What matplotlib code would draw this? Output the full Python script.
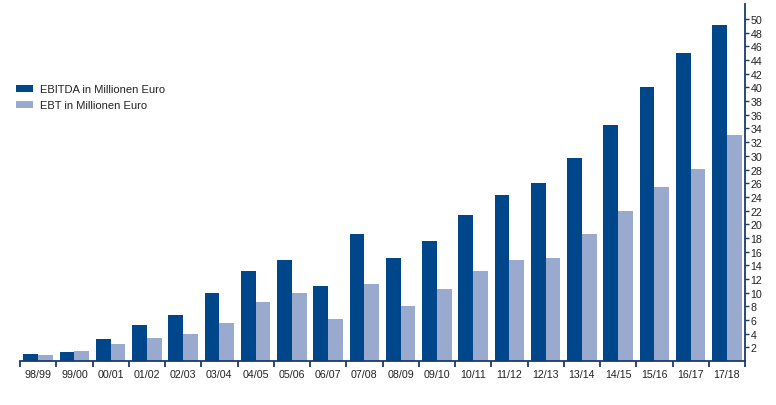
import numpy as np
import matplotlib
matplotlib.use("Agg")
import matplotlib.pyplot as plt

# Data (Mio. EUR)
years = ["98/99", "99/00", "00/01", "01/02", "02/03", "03/04", "04/05", "05/06", "06/07", "07/08",
         "08/09", "09/10", "10/11", "11/12", "12/13", "13/14", "14/15", "15/16", "16/17", "17/18"]
ebitda = [1.0, 1.3, 3.2, 5.2, 6.7, 10.0, 13.2, 14.7, 10.9, 18.6,
          15.0, 17.6, 21.4, 24.3, 26.1, 29.7, 34.5, 40.0, 45.0, 49.1]
ebt = [0.9, 1.5, 2.5, 3.4, 3.9, 5.5, 8.6, 9.9, 6.1, 11.2,
       8.0, 10.6, 13.1, 14.8, 15.0, 18.5, 22.0, 25.5, 28.1, 33.0]
yticks = list(range(2, 51, 2))

dark = "#00468b"
light = "#9aaacf"
axis_col = "#1a3a6e"
text_col = "#222222"

plt.rcParams["font.family"] = ["Liberation Sans", "DejaVu Sans"]

fig = plt.figure(figsize=(7.76, 4.06), dpi=100)
ax = fig.add_axes([20 / 776, 44 / 406, 725 / 776, 357 / 406])

x = np.arange(len(years))
w = 0.41
ax.bar(x - w / 2, ebitda, width=w, color=dark, label="EBITDA in Millionen Euro")
ax.bar(x + w / 2, ebt, width=w, color=light, label="EBT in Millionen Euro")

ax.set_xlim(-0.5, len(years) - 0.5)
ax.set_ylim(0, 52.2)

# spines
for s in ["top", "left"]:
    ax.spines[s].set_visible(False)
for s in ["bottom", "right"]:
    ax.spines[s].set_color(axis_col)
    ax.spines[s].set_linewidth(1.3)

# y axis on the right
ax.yaxis.tick_right()
ax.set_yticks(yticks)
ax.set_yticklabels([str(v) for v in yticks])
ax.tick_params(axis="y", direction="out", length=3, width=1, color=axis_col,
               labelsize=7.7, labelcolor=text_col, pad=1)

# x axis: ticks at category boundaries, labels centred
ax.set_xticks(np.arange(-0.5, len(years), 1.0))
ax.set_xticklabels([])
ax.set_xticks(x, minor=True)
ax.set_xticklabels(years, minor=True)
ax.tick_params(axis="x", which="major", direction="out", length=4, width=1.3, color=axis_col)
ax.tick_params(axis="x", which="minor", length=0, labelsize=7.7, labelcolor=text_col, pad=6)

leg = fig.legend(loc="upper left", bbox_to_anchor=(12 / 776, 1 - 81 / 406), frameon=False,
                 fontsize=8, handlelength=1.5, handleheight=0.6, handletextpad=0.6,
                 labelspacing=0.5, borderaxespad=0)
for t in leg.get_texts():
    t.set_color(text_col)

fig.savefig("out.png", dpi=100)
